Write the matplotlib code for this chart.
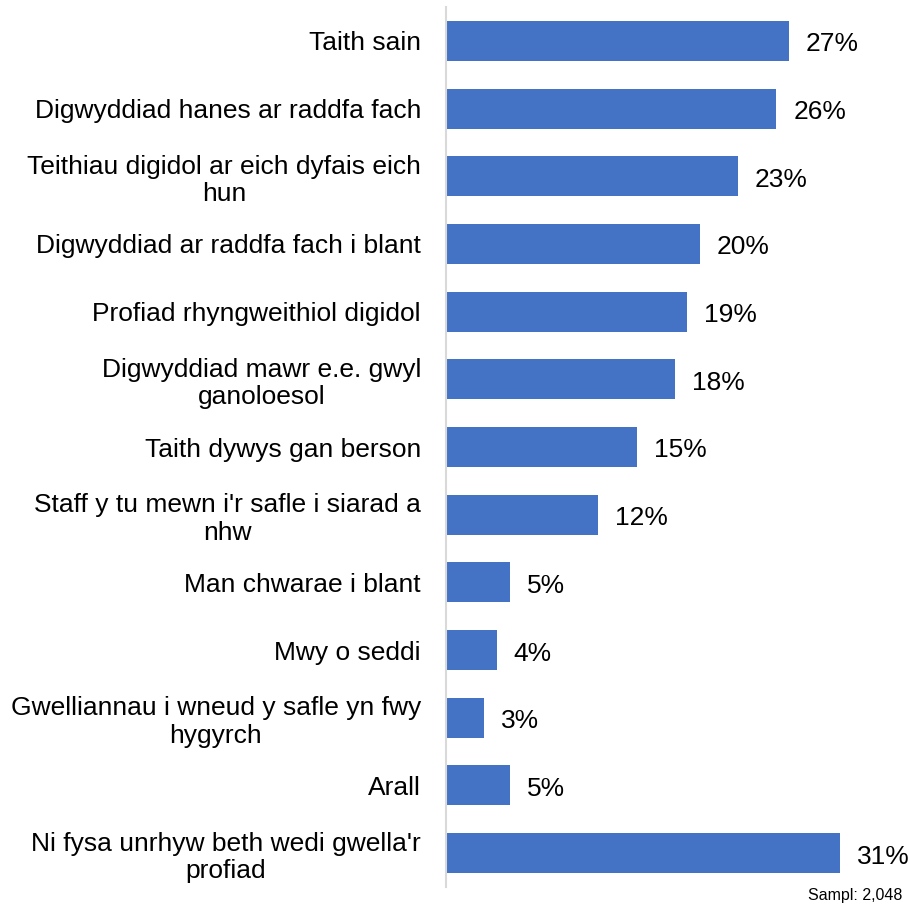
import matplotlib
matplotlib.use("Agg")
import matplotlib.pyplot as plt
from matplotlib.transforms import offset_copy

plt.rcParams['font.family'] = ['Liberation Sans', 'DejaVu Sans']

categories = [
    "Taith sain",
    "Digwyddiad hanes ar raddfa fach",
    "Teithiau digidol ar eich dyfais eich\nhun",
    "Digwyddiad ar raddfa fach i blant",
    "Profiad rhyngweithiol digidol",
    "Digwyddiad mawr e.e. gwyl\nganoloesol",
    "Taith dywys gan berson",
    "Staff y tu mewn i'r safle i siarad a\nnhw",
    "Man chwarae i blant",
    "Mwy o seddi",
    "Gwelliannau i wneud y safle yn fwy\nhygyrch",
    "Arall",
    "Ni fysa unrhyw beth wedi gwella'r\nprofiad",
]
values = [27, 26, 23, 20, 19, 18, 15, 12, 5, 4, 3, 5, 31]
value_labels = [f"{v}%" for v in values]
sample_note = "Sampl: 2,048"

W, H = 910, 905
fig = plt.figure(figsize=(W / 100, H / 100), dpi=100)
left, right, top, bottom = 446, 905, 7, 887
ax = fig.add_axes([left / W, 1 - bottom / H, (right - left) / W, (bottom - top) / H])

y = list(range(len(categories)))
ax.barh(y, values, height=0.59, color="#4472C4", zorder=2)
ax.set_ylim(len(categories) - 0.5, -0.5)
ax.set_xlim(0, (right - left) / 12.7)

tr = offset_copy(ax.transData, fig=fig, x=0, y=-2.5, units="points")
for yi, v, lab in zip(y, values, value_labels):
    ax.text(v + 1.34, yi, lab, va="center", ha="left", fontsize=19, color="black",
            transform=tr)

ax.set_yticks(y)
ax.set_yticklabels(categories, fontsize=19, linespacing=1.18, multialignment="center")
ax.tick_params(axis="y", length=0, pad=18)
ax.set_xticks([])
for s in ["top", "right", "bottom"]:
    ax.spines[s].set_visible(False)
ax.spines["left"].set_color("#D9D9D9")
ax.spines["left"].set_linewidth(1.5)

fig.text(902 / W, 1 - 895 / H, sample_note, ha="right", va="center", fontsize=11.5)

fig.savefig("out.png", dpi=100)
